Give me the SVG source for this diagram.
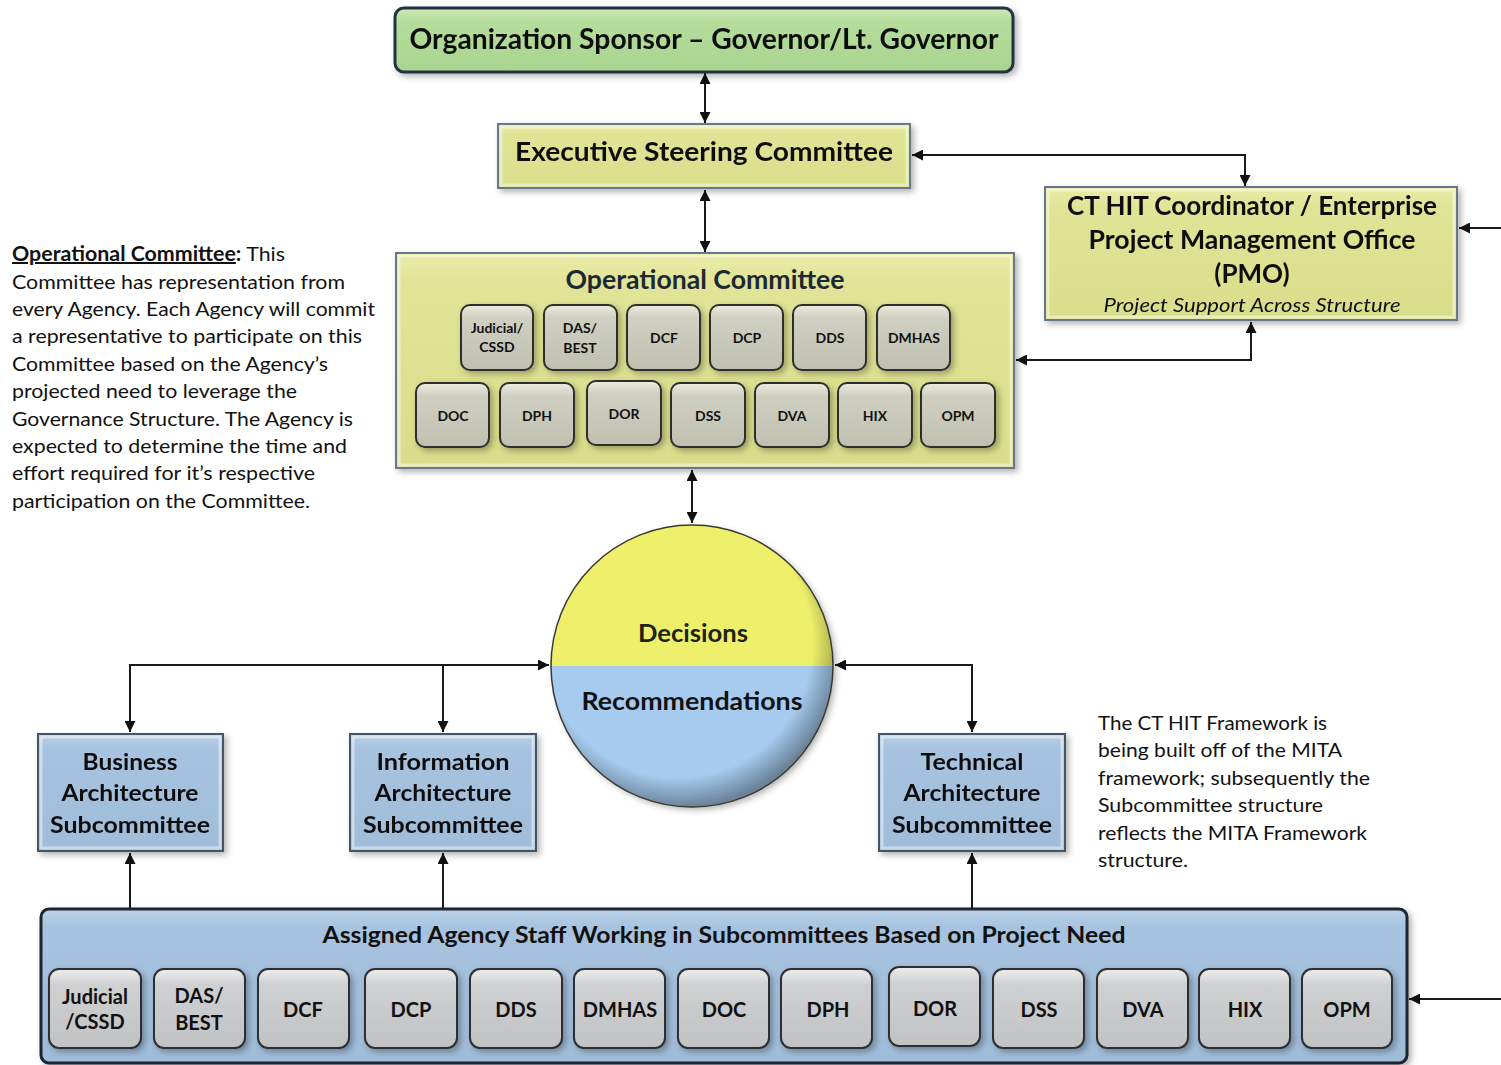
<svg xmlns="http://www.w3.org/2000/svg" width="1501" height="1065" viewBox="0 0 1501 1065">
  <style>
    text { font-family: Lato, "Open Sans", "Noto Sans", sans-serif; fill: #111; }
    .b { font-weight: 700; }
    .mid { text-anchor: middle; }
    .wire { fill: none; stroke: #1a1a1a; stroke-width: 2; }
    .box-y { fill: url(#gYellow); stroke: #66788a; stroke-width: 2; }
    .box-b { fill: url(#gBlue); stroke: #455566; stroke-width: 2; }
    .bevel { fill: none; stroke: #ffffff; stroke-opacity: 0.45; stroke-width: 3; }
    .agO { fill: url(#gAgencyO); stroke: #2e2e2a; stroke-width: 2; }
    .agB { fill: url(#gAgencyB); stroke: #2e2e30; stroke-width: 2; }
    .t14 { font-size: 14px; font-weight: 700; }
    .t20 { font-size: 20px; font-weight: 700; }
    .para { font-size: 20px; }
  </style>
  <defs>
    <marker id="ah" viewBox="0 0 10 10" refX="10" refY="5" markerWidth="11" markerHeight="11" markerUnits="userSpaceOnUse" orient="auto-start-reverse">
      <path d="M0,0 L10,5 L0,10 z" fill="#111"/>
    </marker>
    <filter id="shadow" x="-10%" y="-10%" width="130%" height="130%">
      <feDropShadow dx="3" dy="3" stdDeviation="3" flood-color="#000" flood-opacity="0.3"/>
    </filter>
    <linearGradient id="gGreen" x1="0" y1="0" x2="0" y2="1">
      <stop offset="0" stop-color="#cdeab8"/>
      <stop offset="0.2" stop-color="#b5dd9c"/>
      <stop offset="1" stop-color="#a9d48e"/>
    </linearGradient>
    <linearGradient id="gYellow" x1="0" y1="0" x2="0" y2="1">
      <stop offset="0" stop-color="#e9eca8"/>
      <stop offset="0.15" stop-color="#e0e496"/>
      <stop offset="1" stop-color="#d9de8b"/>
    </linearGradient>
    <linearGradient id="gBlue" x1="0" y1="0" x2="0" y2="1">
      <stop offset="0" stop-color="#bcd2e8"/>
      <stop offset="0.12" stop-color="#a7c3df"/>
      <stop offset="1" stop-color="#9fbcd9"/>
    </linearGradient>
    <linearGradient id="gAgencyO" x1="0" y1="0" x2="0" y2="1">
      <stop offset="0" stop-color="#ececdf"/>
      <stop offset="0.2" stop-color="#cfd0c2"/>
      <stop offset="1" stop-color="#bfc0b0"/>
    </linearGradient>
    <linearGradient id="gAgencyB" x1="0" y1="0" x2="0" y2="1">
      <stop offset="0" stop-color="#ededee"/>
      <stop offset="0.2" stop-color="#cfd0d2"/>
      <stop offset="1" stop-color="#c1c2c4"/>
    </linearGradient>
    <radialGradient id="gOrbShade" cx="0.45" cy="0.42" r="0.58">
      <stop offset="0.82" stop-color="#000" stop-opacity="0"/>
      <stop offset="1" stop-color="#000" stop-opacity="0.35"/>
    </radialGradient>
    <clipPath id="topHalf"><rect x="540" y="515" width="310" height="151"/></clipPath>
    <clipPath id="bottomHalf"><rect x="540" y="666" width="310" height="155"/></clipPath>
  </defs>

  <rect x="0" y="0" width="1501" height="1065" fill="#ffffff"/>

  <!-- connectors -->
  <g id="connectors">
    <path class="wire" d="M705,73 V123" marker-start="url(#ah)" marker-end="url(#ah)"/>
    <path class="wire" d="M912,155 H1245 V186" marker-start="url(#ah)" marker-end="url(#ah)"/>
    <path class="wire" d="M1501,228 H1459" marker-end="url(#ah)"/>
    <path class="wire" d="M1251,322 V360 H1016" marker-start="url(#ah)" marker-end="url(#ah)"/>
    <path class="wire" d="M705,190 V252" marker-start="url(#ah)" marker-end="url(#ah)"/>
    <path class="wire" d="M692,470 V523" marker-start="url(#ah)" marker-end="url(#ah)"/>
    <path class="wire" d="M130,732 V665 H549" marker-start="url(#ah)" marker-end="url(#ah)"/>
    <path class="wire" d="M443,665 V732" marker-end="url(#ah)"/>
    <path class="wire" d="M835,665 H972 V732" marker-start="url(#ah)" marker-end="url(#ah)"/>
    <path class="wire" d="M130,908 V853" marker-end="url(#ah)"/>
    <path class="wire" d="M443,908 V853" marker-end="url(#ah)"/>
    <path class="wire" d="M972,908 V853" marker-end="url(#ah)"/>
    <path class="wire" d="M1501,999 H1409" marker-end="url(#ah)"/>
  </g>

  <!-- sponsor -->
  <g id="sponsor" filter="url(#shadow)">
    <rect x="395" y="8" width="618" height="64" rx="9" fill="url(#gGreen)" stroke="#223040" stroke-width="3"/>
    <text x="704" y="49" class="b mid" font-size="28" textLength="589" lengthAdjust="spacingAndGlyphs">Organization Sponsor – Governor/Lt. Governor</text>
  </g>

  <!-- executive steering committee -->
  <g id="executive" filter="url(#shadow)">
    <rect x="498" y="124" width="412" height="64" class="box-y"/>
    <rect x="501" y="127" width="406" height="58" class="bevel"/>
    <text x="704" y="161" class="b mid" font-size="27" textLength="378" lengthAdjust="spacingAndGlyphs">Executive Steering Committee</text>
  </g>

  <!-- PMO -->
  <g id="pmo" filter="url(#shadow)">
    <rect x="1045" y="187" width="412" height="133" class="box-y"/>
    <rect x="1048" y="190" width="406" height="127" class="bevel"/>
    <text x="1252" y="215" class="b mid" font-size="26" textLength="370" lengthAdjust="spacingAndGlyphs">CT HIT Coordinator / Enterprise</text>
    <text x="1252" y="249" class="b mid" font-size="26" textLength="327" lengthAdjust="spacingAndGlyphs">Project Management Office</text>
    <text x="1252" y="283" class="b mid" font-size="26">(PMO)</text>
    <text x="1252" y="312" class="mid" font-size="20" font-style="italic" textLength="297" lengthAdjust="spacingAndGlyphs">Project Support Across Structure</text>
  </g>

  <!-- operational committee -->
  <g id="operational">
    <g filter="url(#shadow)">
      <rect x="396" y="253" width="618" height="215" class="box-y"/>
      <rect x="399" y="256" width="612" height="209" class="bevel"/>
    </g>
    <text x="705" y="289" class="b mid" font-size="26" fill="#1d2833" style="fill:#1d2833" textLength="279" lengthAdjust="spacingAndGlyphs">Operational Committee</text>
    <g id="op-agencies" filter="url(#shadow)">
      <rect class="agO" x="461" y="305" width="72" height="65" rx="9"/>
      <rect class="agO" x="544" y="305" width="73" height="65" rx="9"/>
      <rect class="agO" x="627" y="305" width="73" height="65" rx="9"/>
      <rect class="agO" x="710" y="305" width="73" height="65" rx="9"/>
      <rect class="agO" x="793" y="305" width="73" height="65" rx="9"/>
      <rect class="agO" x="877" y="305" width="73" height="65" rx="9"/>
      <rect class="agO" x="416" y="383" width="73" height="64" rx="9"/>
      <rect class="agO" x="500" y="383" width="74" height="64" rx="9"/>
      <rect class="agO" x="587" y="381" width="74" height="64" rx="9"/>
      <rect class="agO" x="671" y="383" width="74" height="64" rx="9"/>
      <rect class="agO" x="755" y="383" width="74" height="64" rx="9"/>
      <rect class="agO" x="838" y="383" width="74" height="64" rx="9"/>
      <rect class="agO" x="921" y="383" width="74" height="64" rx="9"/>
    </g>
    <g id="op-agency-labels">
      <text class="t14 mid" x="497" y="333">Judicial/</text>
      <text class="t14 mid" x="497" y="352">CSSD</text>
      <text class="t14 mid" x="580" y="333">DAS/</text>
      <text class="t14 mid" x="580" y="353">BEST</text>
      <text class="t14 mid" x="664" y="343">DCF</text>
      <text class="t14 mid" x="747" y="343">DCP</text>
      <text class="t14 mid" x="830" y="343">DDS</text>
      <text class="t14 mid" x="914" y="343">DMHAS</text>
      <text class="t14 mid" x="453" y="421">DOC</text>
      <text class="t14 mid" x="537" y="421">DPH</text>
      <text class="t14 mid" x="624" y="419">DOR</text>
      <text class="t14 mid" x="708" y="421">DSS</text>
      <text class="t14 mid" x="792" y="421">DVA</text>
      <text class="t14 mid" x="875" y="421">HIX</text>
      <text class="t14 mid" x="958" y="421">OPM</text>
    </g>
  </g>

  <!-- decisions / recommendations orb -->
  <g id="orb">
    <g filter="url(#shadow)">
      <circle cx="692" cy="666" r="141" fill="#eef06c" clip-path="url(#topHalf)"/>
      <circle cx="692" cy="666" r="141" fill="#a6cbee" clip-path="url(#bottomHalf)"/>
    </g>
    <circle cx="692" cy="666" r="141" fill="url(#gOrbShade)"/>
    <circle cx="692" cy="666" r="141" fill="none" stroke="#3a3a30" stroke-width="1.5"/>
    <text x="693" y="642" class="b mid" font-size="24" style="fill:#1e2412" textLength="110" lengthAdjust="spacingAndGlyphs">Decisions</text>
    <text x="692" y="710" class="b mid" font-size="24" textLength="221" lengthAdjust="spacingAndGlyphs">Recommendations</text>
  </g>

  <!-- subcommittees -->
  <g id="business" filter="url(#shadow)">
    <rect x="38" y="734" width="185" height="117" class="box-b"/>
    <rect x="41" y="737" width="179" height="111" class="bevel"/>
    <text x="130" y="770" class="b mid" font-size="23" textLength="95" lengthAdjust="spacingAndGlyphs">Business</text>
    <text x="130" y="801" class="b mid" font-size="23" textLength="137" lengthAdjust="spacingAndGlyphs">Architecture</text>
    <text x="130" y="833" class="b mid" font-size="23" textLength="160" lengthAdjust="spacingAndGlyphs">Subcommittee</text>
  </g>
  <g id="information" filter="url(#shadow)">
    <rect x="350" y="734" width="186" height="117" class="box-b"/>
    <rect x="353" y="737" width="180" height="111" class="bevel"/>
    <text x="443" y="770" class="b mid" font-size="23" textLength="133" lengthAdjust="spacingAndGlyphs">Information</text>
    <text x="443" y="801" class="b mid" font-size="23" textLength="137" lengthAdjust="spacingAndGlyphs">Architecture</text>
    <text x="443" y="833" class="b mid" font-size="23" textLength="160" lengthAdjust="spacingAndGlyphs">Subcommittee</text>
  </g>
  <g id="technical" filter="url(#shadow)">
    <rect x="879" y="734" width="186" height="117" class="box-b"/>
    <rect x="882" y="737" width="180" height="111" class="bevel"/>
    <text x="972" y="770" class="b mid" font-size="23" textLength="103" lengthAdjust="spacingAndGlyphs">Technical</text>
    <text x="972" y="801" class="b mid" font-size="23" textLength="137" lengthAdjust="spacingAndGlyphs">Architecture</text>
    <text x="972" y="833" class="b mid" font-size="23" textLength="160" lengthAdjust="spacingAndGlyphs">Subcommittee</text>
  </g>

  <!-- assigned agency staff -->
  <g id="staff">
    <g filter="url(#shadow)">
      <rect x="41" y="909" width="1366" height="154" rx="8" fill="url(#gBlue)" stroke="#1e2530" stroke-width="3"/>
    </g>
    <text x="724" y="943" class="b mid" font-size="23" textLength="803" lengthAdjust="spacingAndGlyphs">Assigned Agency Staff Working in Subcommittees Based on Project Need</text>
    <g id="staff-agencies" filter="url(#shadow)">
      <rect class="agB" x="49" y="969" width="92" height="79" rx="10"/>
      <rect class="agB" x="154" y="969" width="91" height="79" rx="10"/>
      <rect class="agB" x="258" y="969" width="91" height="79" rx="10"/>
      <rect class="agB" x="365" y="969" width="92" height="79" rx="10"/>
      <rect class="agB" x="470" y="969" width="92" height="79" rx="10"/>
      <rect class="agB" x="574" y="969" width="91" height="79" rx="10"/>
      <rect class="agB" x="678" y="969" width="91" height="79" rx="10"/>
      <rect class="agB" x="781" y="969" width="91" height="79" rx="10"/>
      <rect class="agB" x="889" y="967" width="91" height="79" rx="10"/>
      <rect class="agB" x="993" y="969" width="91" height="79" rx="10"/>
      <rect class="agB" x="1097" y="969" width="91" height="79" rx="10"/>
      <rect class="agB" x="1199" y="969" width="91" height="79" rx="10"/>
      <rect class="agB" x="1302" y="969" width="90" height="79" rx="10"/>
    </g>
    <g id="staff-agency-labels">
      <text class="t20 mid" x="95" y="1004">Judicial</text>
      <text class="t20 mid" x="95" y="1029">/CSSD</text>
      <text class="t20 mid" x="199" y="1003">DAS/</text>
      <text class="t20 mid" x="199" y="1030">BEST</text>
      <text class="t20 mid" x="303" y="1017">DCF</text>
      <text class="t20 mid" x="411" y="1017">DCP</text>
      <text class="t20 mid" x="516" y="1017">DDS</text>
      <text class="t20 mid" x="620" y="1017">DMHAS</text>
      <text class="t20 mid" x="724" y="1017">DOC</text>
      <text class="t20 mid" x="828" y="1017">DPH</text>
      <text class="t20 mid" x="935" y="1016">DOR</text>
      <text class="t20 mid" x="1039" y="1017">DSS</text>
      <text class="t20 mid" x="1143" y="1017">DVA</text>
      <text class="t20 mid" x="1245" y="1017">HIX</text>
      <text class="t20 mid" x="1347" y="1017">OPM</text>
    </g>
  </g>

  <!-- operational committee note -->
  <g id="op-note" class="para">
    <text x="12" y="261" font-size="20" textLength="273" lengthAdjust="spacingAndGlyphs"><tspan font-weight="700" text-decoration="underline">Operational Committee</tspan><tspan font-weight="700">:</tspan> This</text>
    <text x="12" y="289" font-size="20" textLength="333" lengthAdjust="spacingAndGlyphs">Committee has representation from</text>
    <text x="12" y="316" font-size="20" textLength="363" lengthAdjust="spacingAndGlyphs">every Agency. Each Agency will commit</text>
    <text x="12" y="343" font-size="20" textLength="350" lengthAdjust="spacingAndGlyphs">a representative to participate on this</text>
    <text x="12" y="371" font-size="20" textLength="316" lengthAdjust="spacingAndGlyphs">Committee based on the Agency’s</text>
    <text x="12" y="398" font-size="20" textLength="285" lengthAdjust="spacingAndGlyphs">projected need to leverage the</text>
    <text x="12" y="426" font-size="20" textLength="341" lengthAdjust="spacingAndGlyphs">Governance Structure. The Agency is</text>
    <text x="12" y="453" font-size="20" textLength="335" lengthAdjust="spacingAndGlyphs">expected to determine the time and</text>
    <text x="12" y="480" font-size="20" textLength="303" lengthAdjust="spacingAndGlyphs">effort required for it’s respective</text>
    <text x="12" y="508" font-size="20" textLength="298" lengthAdjust="spacingAndGlyphs">participation on the Committee.</text>
  </g>

  <!-- framework note -->
  <g id="framework-note">
    <text x="1098" y="730" font-size="20" textLength="229" lengthAdjust="spacingAndGlyphs">The CT HIT Framework is</text>
    <text x="1098" y="757" font-size="20" textLength="244" lengthAdjust="spacingAndGlyphs">being built off of the MITA</text>
    <text x="1098" y="785" font-size="20" textLength="272" lengthAdjust="spacingAndGlyphs">framework; subsequently the</text>
    <text x="1098" y="812" font-size="20" textLength="225" lengthAdjust="spacingAndGlyphs">Subcommittee structure</text>
    <text x="1098" y="840" font-size="20" textLength="269" lengthAdjust="spacingAndGlyphs">reflects the MITA Framework</text>
    <text x="1098" y="867" font-size="20" textLength="90" lengthAdjust="spacingAndGlyphs">structure.</text>
  </g>
</svg>
